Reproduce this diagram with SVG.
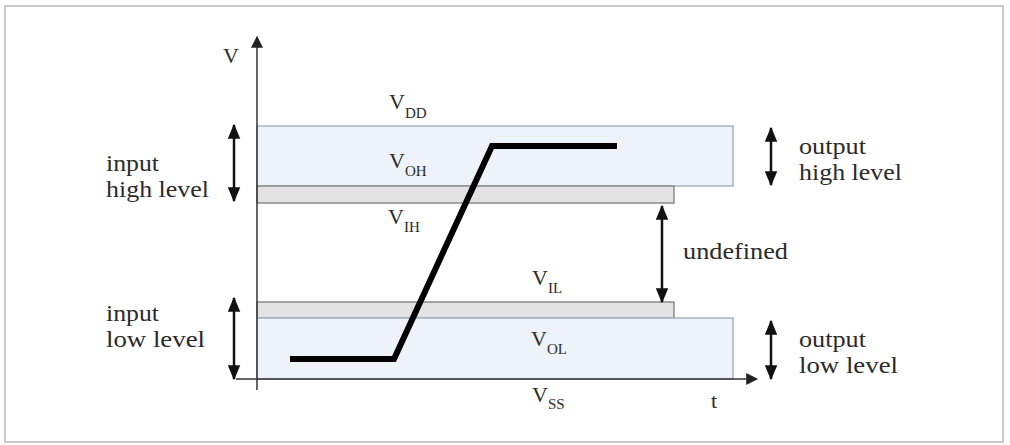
<svg xmlns="http://www.w3.org/2000/svg" width="1010" height="445" viewBox="0 0 1010 445">
<style>
text{font-family:"Liberation Serif","Times New Roman",serif;fill:#2b2b2b}
.lbl{font-size:22.5px}
.v{font-size:22px}
.sub{font-size:15px}
.band{fill:#eef3f9;stroke:#a9b4c2;stroke-width:1.5}
.gray{fill:#e3e3e3;stroke:#8a8a8a;stroke-width:1.5}
.axis{stroke:#333;stroke-width:1.5;fill:none}
.dbl{stroke:#111;stroke-width:2.5;fill:none}
</style>
<defs>
<marker id="ah" viewBox="0 0 12 10" refX="11" refY="5" markerWidth="6" markerHeight="5.2" orient="auto-start-reverse" markerUnits="strokeWidth">
<path d="M0,0 L12,5 L0,10 z" fill="#111"/>
</marker>
<marker id="ax" viewBox="0 0 10 10" refX="9" refY="5" markerWidth="8" markerHeight="8" orient="auto" markerUnits="strokeWidth">
<path d="M0,0 L10,5 L0,10 z" fill="#222"/>
</marker>
</defs>
<rect x="5" y="6" width="998" height="436" fill="#fff" stroke="#c9c9c9" stroke-width="2"/>
<g id="bands">
<rect id="voh-band" class="band" x="257" y="126" width="476" height="60"/>
<rect id="vih-band" class="gray" x="257" y="186" width="417" height="17"/>
<rect id="vil-band" class="gray" x="257" y="302" width="417" height="16"/>
<rect id="vol-band" class="band" x="257" y="318" width="476" height="61"/>
</g>
<g id="connectors">
<line class="axis" x1="257" y1="390" x2="257" y2="37" marker-end="url(#ax)"/>
<line class="axis" x1="236" y1="379" x2="757" y2="379" marker-end="url(#ax)"/>
<line class="dbl" x1="234" y1="125" x2="234" y2="201" marker-start="url(#ah)" marker-end="url(#ah)"/>
<line class="dbl" x1="234" y1="298" x2="234" y2="379" marker-start="url(#ah)" marker-end="url(#ah)"/>
<line class="dbl" x1="771" y1="128" x2="771" y2="185" marker-start="url(#ah)" marker-end="url(#ah)"/>
<line class="dbl" x1="771" y1="321" x2="771" y2="379" marker-start="url(#ah)" marker-end="url(#ah)"/>
<line class="dbl" x1="662" y1="206" x2="662" y2="302" marker-start="url(#ah)" marker-end="url(#ah)"/>
<polyline points="290,359 394,359 492,146 617,146" fill="none" stroke="#000" stroke-width="6" stroke-linejoin="miter"/>
</g>
<g id="labels">
<text class="v" x="223" y="63">V</text>
<text class="v" x="389" y="109">V<tspan class="sub" dy="9">DD</tspan></text>
<text class="v" x="389" y="168">V<tspan class="sub" dy="8">OH</tspan></text>
<text class="v" x="388" y="224">V<tspan class="sub" dy="8">IH</tspan></text>
<text class="v" x="532" y="285">V<tspan class="sub" dy="8">IL</tspan></text>
<text class="v" x="531" y="346">V<tspan class="sub" dy="8">OL</tspan></text>
<text class="v" x="532" y="402">V<tspan class="sub" dy="7">SS</tspan></text>
<text class="v" x="711" y="408">t</text>
</g>
<g id="side-labels">
<text class="lbl" x="106" y="171" textLength="53" lengthAdjust="spacingAndGlyphs">input</text>
<text class="lbl" x="106" y="197" textLength="103" lengthAdjust="spacingAndGlyphs">high level</text>
<text class="lbl" x="106" y="321" textLength="53" lengthAdjust="spacingAndGlyphs">input</text>
<text class="lbl" x="106" y="347" textLength="99" lengthAdjust="spacingAndGlyphs">low level</text>
<text class="lbl" x="799" y="154" textLength="67" lengthAdjust="spacingAndGlyphs">output</text>
<text class="lbl" x="799" y="180" textLength="103" lengthAdjust="spacingAndGlyphs">high level</text>
<text class="lbl" x="799" y="347" textLength="67" lengthAdjust="spacingAndGlyphs">output</text>
<text class="lbl" x="799" y="373" textLength="99" lengthAdjust="spacingAndGlyphs">low level</text>
<text class="lbl" x="683" y="259" textLength="105" lengthAdjust="spacingAndGlyphs">undefined</text>
</g>
</svg>
